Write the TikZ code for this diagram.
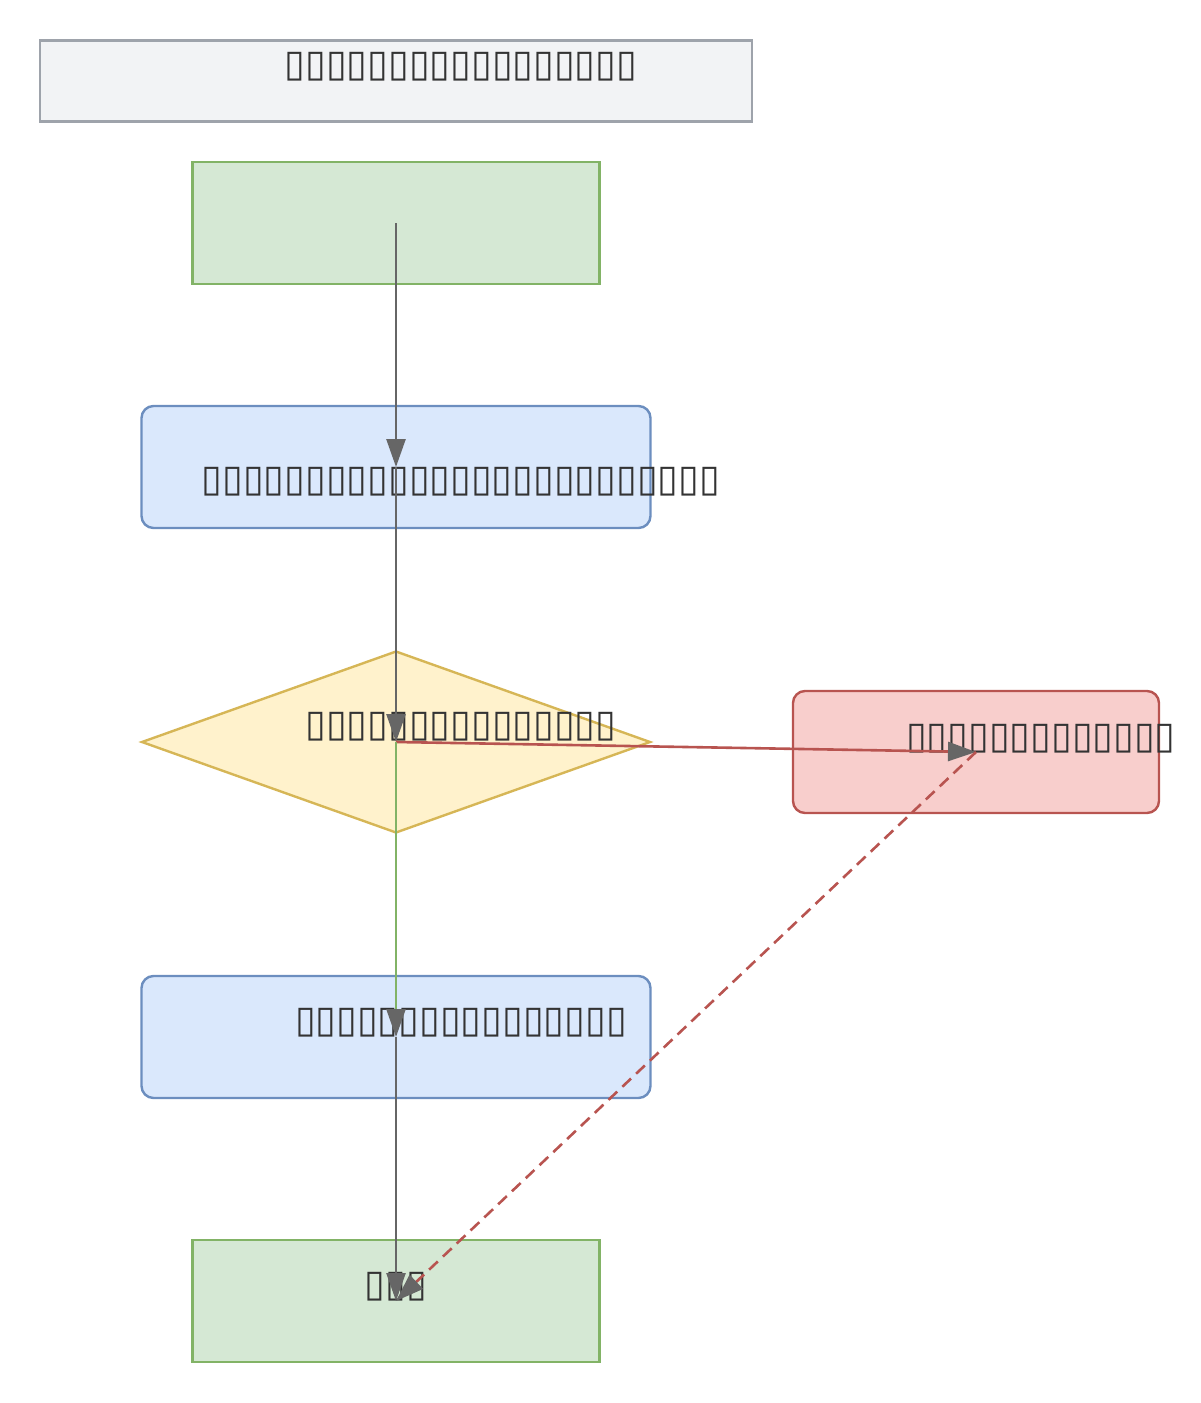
\documentclass[tikz,border=0pt]{standalone}
\usepackage{fontspec}
\setmainfont{DejaVu Sans}
\usetikzlibrary{arrows.meta,shapes.geometric}

\definecolor{titlefill}{HTML}{F2F3F5}
\definecolor{titleline}{HTML}{9EA3AB}
\definecolor{greenfill}{HTML}{D5E8D4}
\definecolor{greenline}{HTML}{82B366}
\definecolor{bluefill}{HTML}{DAE8FC}
\definecolor{blueline}{HTML}{6C8EBF}
\definecolor{yellowfill}{HTML}{FFF2CC}
\definecolor{yellowline}{HTML}{D6B656}
\definecolor{redfill}{HTML}{F8CECC}
\definecolor{redline}{HTML}{B85450}
\definecolor{textgray}{HTML}{333333}
\definecolor{arrowgray}{HTML}{666666}

\tikzset{
    shapebox/.style={draw,line width=1.2pt,inner sep=0pt,minimum height=61pt},
    termbox/.style={shapebox,fill=greenfill,draw=greenline,minimum width=203.5pt},
    procbox/.style={shapebox,fill=bluefill,draw=blueline,rounded corners=6pt,minimum width=254.5pt},
    errbox/.style={shapebox,fill=redfill,draw=redline,rounded corners=6pt,minimum width=183pt},
    decbox/.style={diamond,draw=yellowline,fill=yellowfill,line width=1.2pt,inner sep=0pt,minimum width=254.5pt,minimum height=91pt},
    lbl/.style={text=textgray,inner sep=0pt,font=\fontsize{18.85pt}{22pt}\selectfont},
    flow/.style={line width=1.3pt,draw=arrowgray,-{Triangle[length=14pt,width=9.5pt,color=arrowgray]}}
}

\begin{document}
\begin{tikzpicture}[x=0.5pt,y=-0.5pt]
    \useasboundingbox (0,0) rectangle (1200,1403);
    % shapes
    \node[draw=titleline,fill=titlefill,line width=1.2pt,minimum width=356pt,minimum height=40.5pt,inner sep=0pt](title) at (396,81){};
    \node[termbox](start) at (396,223){};
    \node[procbox](stepa) at (396,467){};
    \node[decbox](check) at (396,742){};
    \node[errbox](fail) at (976,752){};
    \node[procbox](stepb) at (396,1037){};
    \node[termbox](finish) at (396,1301){};
    % texts
    \node[lbl](titletext) at (461,67){▯▯▯▯▯▯▯▯▯▯▯▯▯▯▯▯▯};
    \node[lbl](stepatext) at (461,482){▯▯▯▯▯▯▯▯▯▯▯▯▯▯▯▯▯▯▯▯▯▯▯▯▯};
    \node[lbl](checktext) at (461,727){▯▯▯▯▯▯▯▯▯▯▯▯▯▯▯};
    \node[lbl](failtext) at (1041,739){▯▯▯▯▯▯▯▯▯▯▯▯▯};
    \node[lbl](stepbtext) at (461,1023){▯▯▯▯▯▯▯▯▯▯▯▯▯▯▯▯};
    \node[lbl](finishtext) at (396,1287){▯▯▯};
    % edges, centre to centre
    \draw[flow] (start.center) -- (stepa.center);
    \draw[flow] (stepa.center) -- (check.center);
    \draw[flow,draw=redline] (check.center) -- (fail.center);
    \draw[flow,draw=greenline] (check.center) -- (stepb.center);
    \draw[flow] (stepb.center) -- (finish.center);
    \draw[flow,draw=redline,dashed,dash pattern=on 6pt off 3.5pt] (fail.center) -- (finish.center);
\end{tikzpicture}
\end{document}
